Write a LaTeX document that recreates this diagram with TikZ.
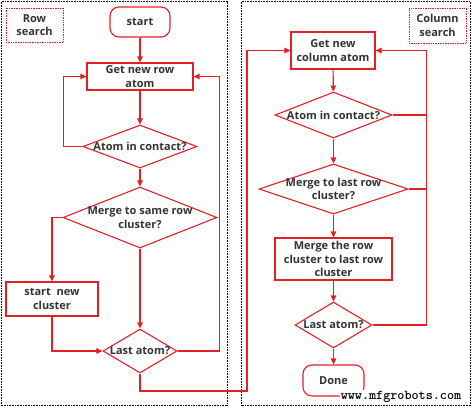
\documentclass[tikz,border=0pt]{standalone}
\usepackage{fontspec}
\setmainfont{Open Sans}
\usetikzlibrary{shapes.geometric,arrows.meta}
\definecolor{lr}{RGB}{228,32,38}
\definecolor{tx}{RGB}{51,51,51}
\begin{document}
\begin{tikzpicture}[x=1pt,y=-1pt,
  line/.style={draw=lr,line width=1.1pt},
  arr/.style={line,-{Triangle[length=6pt,width=5.5pt]}},
  fnt/.style={font=\fontsize{11}{13.5}\selectfont\bfseries,text=tx,align=center},
  box/.style={draw=lr,line width=1.1pt,fill=white,inner sep=0pt,fnt},
  term/.style={box,rounded corners=9pt},
  dia/.style={draw=lr,line width=1.1pt,diamond,inner sep=0pt},
  txt/.style={fnt,inner sep=0pt},
  tag/.style={draw=lr,densely dotted,line width=0.7pt,fnt,inner sep=0pt},
  frame/.style={draw=black,densely dotted,line width=0.6pt}]
\useasboundingbox (0,0) rectangle (472,408);
\draw[frame] (1.5,1.5) rectangle (227.5,405.5);
\draw[frame] (241,1.5) rectangle (470.5,405.5);
% left column
\node[tag,minimum width=57pt,minimum height=34pt] (rowtag) at (34.5,25) {Row\\search};
\node[term,minimum width=60pt,minimum height=30pt] (start) at (140,22) {start};
\node[box,minimum width=106pt,minimum height=27pt] (getrow) at (140,76.5) {Get new row\\atom};
\node[dia,minimum width=114pt,minimum height=43pt] (cont1) at (140,146.5) {};
\node[txt] (cont1t) at (cont1) {Atom in contact?};
\node[dia,minimum width=154pt,minimum height=61pt] (merge1) at (140,217.5) {};
\node[txt] (merge1t) at (merge1) {Merge to same row\\cluster?};
\node[box,minimum width=92pt,minimum height=34pt] (newcl) at (52,299) {start\ \ new\\cluster};
\node[dia,minimum width=74pt,minimum height=44pt] (last1) at (140,351) {};
\node[txt] (last1t) at (last1) {Last atom?};
% right column
\node[tag,minimum width=57pt,minimum height=35pt] (coltag) at (437.5,25.5) {Column\\search};
\node[box,minimum width=84pt,minimum height=37pt] (getcol) at (333,50.5) {Get new\\column atom};
\node[dia,minimum width=117pt,minimum height=46pt] (cont2) at (333.5,115) {};
\node[txt] (cont2t) at (cont2) {Atom in contact?};
\node[dia,minimum width=149pt,minimum height=50pt] (merge2) at (333.5,189) {};
\node[txt] (merge2t) at (merge2) {Merge to last row\\cluster?};
\node[box,minimum width=117pt,minimum height=42pt] (mbox) at (333.5,259) {Merge the row\\cluster to last row\\cluster};
\node[dia,minimum width=77pt,minimum height=46pt] (last2) at (333.5,325) {};
\node[txt] (last2t) at (last2) {Last atom?};
\node[term,minimum width=61pt,minimum height=31pt] (done) at (333.5,380.5) {Done};
% connectors left
\draw[arr] (start) -- (getrow);
\draw[arr] (getrow) -- (cont1);
\draw[arr] (cont1.west) -- ++(-19,0) |- (getrow.west);
\draw[arr] (cont1) -- (merge1);
\draw[arr] (merge1.west) -| (newcl.north);
\draw[arr] (merge1) -- (last1);
\draw[arr] (newcl.south) |- (last1.west);
\draw[arr] (last1.east) -- ++(42,0) |- (getrow.east);
\coordinate (c1) at (247,391);
\draw[arr] (last1.south) |- (c1) |- (getcol.west);
% connectors right
\draw[arr] (getcol) -- (cont2);
\draw[arr] (cont2) -- (merge2);
\draw[arr] (merge2) -- (mbox);
\draw[arr] (mbox) -- (last2);
\draw[arr] (last2) -- (done);
\draw[arr] (last2.east) -- ++(54,0) |- (getcol.east);
\draw[line] (cont2.east) -- ++(34,0);
\draw[line] (merge2.east) -- ++(18,0);
% watermark
\node[fill=white,inner sep=1pt,font=\fontsize{13.5}{13.5}\ttfamily\bfseries,text=black] (wm) at (401,397) {www.mfgrobots.com};
\end{tikzpicture}
\end{document}
